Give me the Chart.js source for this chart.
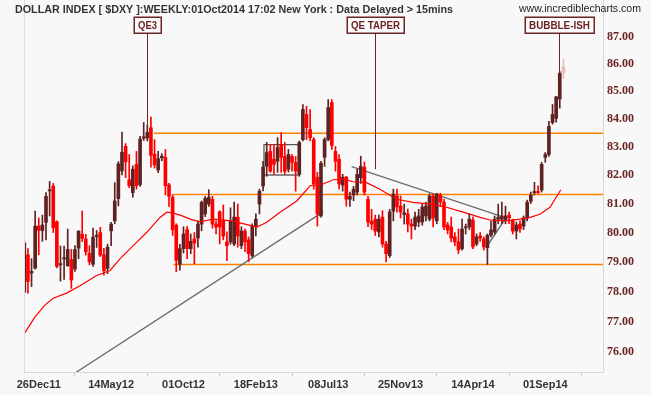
<!DOCTYPE html>
<html>
<head>
<meta charset="utf-8">
<script src="https://cdn.jsdelivr.net/npm/chart.js@4/dist/chart.umd.min.js"></script>
<style>
  html, body { margin: 0; padding: 0; background: #f8f8f8; }
  #grafica { display: block; }
</style>
</head>
<body>
<canvas id="grafica" width="651" height="395"></canvas>
<script>
// weekly bars, week 0 = 28Nov11
const tickWeeks = [4, 24, 44, 64, 84, 104, 124, 144];
const tickLabels = ['26Dec11', '14May12', '01Oct12', '18Feb13', '08Jul13', '25Nov13', '14Apr14', '01Sep14'];
const priceTicks = [76, 77, 78, 79, 80, 81, 82, 83, 84, 85, 86, 87];

const opens = [77.98,79.24,78.62,78.79,80.22,80.07,80.35,81.44,81.61,80.37, 78.90,79.10,78.87,79.08,78.76,79.47,79.94,79.78,79.29,78.92,
  79.86,80.00,79.24,78.78,80.06,80.40,81.17,82.14,83.01,81.83, 81.38,82.37,81.66,83.30,83.31,83.67,82.73,82.17,82.60,82.62,
  81.65,81.22,80.25,78.92,79.45,80.10,79.45,79.78,79.81,80.29, 80.64,80.98,81.15,80.29,80.71,80.40,79.68,79.68,79.61,80.53,
  79.55,80.05,79.75,79.21,80.22,80.98,81.61,82.30,82.83,82.55, 82.48,83.08,82.65,82.20,82.65,82.44,82.02,83.25,84.15,83.61,
  83.25,81.92,80.57,82.62,83.25,84.58,82.83,82.55,81.64,81.92, 81.15,81.30,81.40,81.90,82.27,81.15,80.39,80.46,80.02,80.53,
  79.61,79.21,80.74,81.26,80.91,80.62,80.64,80.29,80.22,80.36, 80.36,80.57,80.46,81.26,80.40,81.29,81.05,80.26,80.19,79.85,
  79.68,79.45,80.16,80.19,80.43,79.61,79.88,79.78,79.48,79.91, 80.02,80.46,80.46,80.43,80.60,80.43,80.05,80.29,80.22,80.50,
  81.08,81.38,81.42,81.47,82.62,82.72,83.86,84.01,84.71,85.66];
const highs = [79.73,79.45,79.11,80.74,80.50,80.60,81.38,81.77,81.70,80.40, 79.54,79.54,80.12,79.42,79.55,80.07,80.74,79.94,79.55,80.15,
  80.07,80.18,79.46,79.60,80.35,81.73,82.47,83.52,83.11,82.72, 82.32,82.83,83.37,83.86,83.78,84.06,83.25,82.83,82.75,82.90,
  81.70,81.30,80.30,79.60,80.20,80.20,79.95,80.00,80.40,81.09, 81.25,81.48,81.25,80.40,80.75,80.95,80.02,80.85,81.05,80.98,
  80.20,80.12,79.85,80.30,80.64,81.50,82.48,83.15,83.08,83.08, 83.32,83.50,83.15,82.90,82.72,82.65,83.20,84.51,84.45,84.33,
  83.32,82.09,82.48,83.32,84.69,84.69,83.00,82.72,82.02,81.95, 81.40,81.60,82.20,82.66,82.45,81.25,80.80,80.60,80.60,80.75,
  79.70,80.80,81.50,81.50,81.26,80.98,80.81,80.46,80.70,80.80, 81.00,81.05,81.33,81.33,81.36,81.36,81.15,80.35,80.53,80.00,
  80.12,80.46,80.29,80.64,80.53,79.95,80.00,79.85,79.95,80.39, 80.57,80.98,81.05,80.91,80.70,80.46,80.36,80.40,80.57,81.12,
  81.40,81.74,81.62,82.44,82.79,83.90,84.51,84.80,85.71,86.16];
const lows = [77.96,77.95,78.17,78.75,79.24,79.70,79.75,80.57,80.00,78.80, 78.35,78.41,78.85,78.11,78.68,79.11,79.69,79.23,78.90,78.85,
  79.49,79.18,78.55,78.60,79.55,80.30,80.92,82.00,81.90,81.55, 81.22,81.50,81.60,83.22,83.20,82.27,82.24,82.08,82.50,81.30,
  80.90,79.90,78.67,78.72,79.30,79.11,79.28,78.94,79.50,80.06, 80.55,80.90,80.15,79.95,79.61,79.75,79.04,79.60,79.55,79.50,
  79.45,79.35,79.01,79.15,79.88,80.64,81.44,81.95,82.09,82.02, 82.09,82.09,82.02,82.10,82.13,81.43,81.95,83.20,83.25,83.20,
  81.50,80.22,80.53,82.30,83.20,82.90,82.13,81.50,81.43,80.91, 80.90,81.10,81.30,81.70,81.30,80.20,80.10,79.90,79.85,79.50,
  79.00,79.15,80.40,80.70,80.50,80.29,80.02,79.78,80.10,80.20, 80.25,80.40,80.40,80.19,80.30,80.90,80.10,79.95,79.68,79.55,
  79.28,79.40,79.95,80.10,79.45,79.55,79.70,79.40,78.91,79.85, 79.95,80.30,80.30,80.30,80.30,79.95,79.78,80.00,80.10,80.40,
  81.00,81.30,81.35,81.40,82.44,82.65,83.80,83.87,84.38,85.47];
const closes = [79.64,78.34,78.68,80.22,80.07,80.26,81.25,81.48,80.17,78.85, 78.94,79.14,79.42,78.39,79.42,80.04,79.80,79.34,79.00,79.84,
  79.91,79.23,78.70,79.50,80.29,81.09,82.39,82.80,82.46,81.62, 82.20,81.62,83.27,83.35,83.51,82.69,82.35,82.57,82.66,81.62,
  81.25,80.10,79.05,79.45,79.95,79.45,79.70,79.64,80.29,81.04, 81.18,81.22,80.29,80.19,80.19,79.88,79.55,80.40,80.53,79.88,
  80.05,79.68,79.28,80.22,80.46,81.43,82.27,82.79,82.13,82.37, 82.97,82.62,82.13,82.72,82.44,82.13,83.15,84.33,83.68,83.32,
  81.68,80.64,82.41,83.25,84.40,83.04,82.48,81.68,81.92,81.15, 81.25,81.50,82.02,82.30,81.40,80.36,80.29,80.05,80.46,79.61,
  79.28,80.71,81.33,80.88,80.71,80.68,80.29,80.22,80.53,80.57, 80.88,80.91,81.26,80.50,81.33,81.05,80.19,80.09,79.81,79.68,
  79.41,80.12,80.19,80.46,79.51,79.85,79.81,79.51,79.91,80.09, 80.46,80.53,80.57,80.57,80.50,80.05,80.26,80.12,80.50,81.05,
  81.29,81.42,81.38,82.37,82.72,83.72,84.15,84.79,85.65,85.87];

// moving average
const maWeeks = [0.2, 2.9, 5.7, 8.0, 11.7, 15.4, 20.0, 23.7, 26.5, 30.1, 33.8, 37.5, 39.4, 41.2, 43.5, 45.8, 48.6, 52.2, 57.3, 61.0,
  64.3, 67.0, 70.7, 75.3, 79.0, 82.6, 85.4, 88.2, 90.9, 94.6, 98.3, 102.9, 107.5, 112.1, 116.7, 121.3, 126.0, 128.7, 133.3, 137.0,
  139.8, 142.5, 145.3, 148.3];
const maValues = [76.64, 77.15, 77.55, 77.78, 77.95, 78.20, 78.54, 78.71, 79.11, 79.55, 80.00, 80.52, 80.70, 80.67, 80.58, 80.46, 80.37, 80.46, 80.40, 80.29,
  80.19, 80.35, 80.70, 81.09, 81.62, 81.68, 81.83, 81.85, 81.76, 81.73, 81.50, 81.15, 81.04, 80.98, 80.87, 80.70, 80.52, 80.43, 80.40, 80.46,
  80.52, 80.63, 80.87, 81.48];

// horizontal levels
const levelValues = [83.48, 81.31, 78.91];
const levelStartWeeks = [35.8, 40.9, 41.2];

// trendlines [week, value] pairs
const trendWeeks = [[14.45, 82.6], [90.5, 131.5], [127.6, 133.1]];
const trendValues = [[75.36, 80.71], [82.29, 80.57], [79.48, 80.50]];

// consolidation box
const boxWeeks = [66.25, 76.2];
const boxValues = [83.07, 82.0];

// annotations
const noteLabels = ['QE3', 'QE TAPER', 'BUBBLE-ISH'];
const noteWeeks = [34, 96.85, 147.8];
const noteValues = [83.79, 82.20, 85.72];
const noteBoxWidths = [27, 57, 69];

const titleText = 'DOLLAR INDEX [ $DXY ]:WEEKLY:01Oct2014 17:02 New York : Data Delayed > 15mins';
const siteText = 'www.incrediblecharts.com';

const UP = '#5e2222', DOWN = '#ff0000', LIVE = '#f2b9b9', MAROON = '#6b2424';
const X_MIN = -0.083, X_MAX = 159.95;

function candleColor(i) {
  if (i === opens.length - 1) return LIVE;
  return closes[i] >= opens[i] ? UP : DOWN;
}

const wicks = {
  type: 'bar',
  data: opens.map((o, i) => ({ x: i, y: [lows[i], highs[i]] })),
  backgroundColor: ctx => candleColor(ctx.dataIndex),
  barThickness: 1,
  grouped: false,
  minBarLength: 1,
  order: 3
};
const bodies = {
  type: 'bar',
  data: opens.map((o, i) => ({ x: i, y: [o, closes[i]] })),
  backgroundColor: ctx => candleColor(ctx.dataIndex),
  barThickness: 3,
  grouped: false,
  minBarLength: 1,
  order: 2
};
const ma = {
  type: 'line',
  data: maWeeks.map((w, i) => ({ x: w, y: maValues[i] })),
  borderColor: '#ff0000',
  borderWidth: 1.2,
  pointRadius: 0,
  tension: 0,
  order: 1
};
const levels = levelValues.map((v, i) => ({
  type: 'line',
  data: [{ x: levelStartWeeks[i], y: v }, { x: X_MAX, y: v }],
  borderColor: '#ff8000',
  borderWidth: 1.5,
  pointRadius: 0,
  order: 6
}));
const trends = trendWeeks.map((w, i) => ({
  type: 'line',
  data: [{ x: w[0], y: trendValues[i][0] }, { x: w[1], y: trendValues[i][1] }],
  borderColor: '#6e6e6e',
  borderWidth: 1.4,
  pointRadius: 0,
  order: 5
}));
const box = {
  type: 'line',
  data: [
    { x: boxWeeks[0], y: boxValues[1] }, { x: boxWeeks[0], y: boxValues[0] },
    { x: boxWeeks[1], y: boxValues[0] }, { x: boxWeeks[1], y: boxValues[1] }
  ],
  borderColor: '#555555',
  borderWidth: 1.2,
  pointRadius: 0,
  order: 4
};
const boxBase = {
  type: 'line',
  data: [{ x: boxWeeks[0], y: boxValues[1] }, { x: boxWeeks[1], y: boxValues[1] }],
  borderColor: '#8a8a8a',
  borderWidth: 2,
  pointRadius: 0,
  order: 4
};

function fitText(ctx, text, x, y, width, font, color, align) {
  ctx.save();
  ctx.font = font;
  ctx.fillStyle = color;
  ctx.textBaseline = 'alphabetic';
  const w = ctx.measureText(text).width;
  const k = width / w;
  const left = align === 'right' ? x - width : (align === 'center' ? x - width / 2 : x);
  ctx.translate(left, y);
  ctx.scale(k, 1);
  ctx.textAlign = 'left';
  ctx.fillText(text, 0, 0);
  ctx.restore();
}

const decor = {
  id: 'decor',
  beforeDraw(chart) {
    const ctx = chart.ctx;
    ctx.save();
    ctx.fillStyle = '#f8f8f8';
    ctx.fillRect(0, 0, chart.width, chart.height);
    ctx.restore();
  },
  afterDraw(chart) {
    const { ctx, chartArea: a, scales: { x, y } } = chart;
    ctx.save();
    ctx.strokeStyle = '#dcdcdc';
    ctx.lineWidth = 1;
    ctx.beginPath();
    ctx.moveTo(a.left + 0.5, a.top);
    ctx.lineTo(a.left + 0.5, a.bottom);
    ctx.stroke();

    fitText(ctx, titleText, 15, 13, 438, 'bold 11px "Liberation Sans"', '#333333', 'left');
    fitText(ctx, siteText, 641, 12, 122, '11px "Liberation Sans"', '#222222', 'right');

    noteLabels.forEach((label, i) => {
      const px = Math.round(x.getPixelForValue(noteWeeks[i])) + 0.5;
      const py = y.getPixelForValue(noteValues[i]);
      const bw = noteBoxWidths[i];
      const top = 17, bh = 16;
      ctx.strokeStyle = MAROON;
      ctx.lineWidth = 1;
      ctx.beginPath();
      ctx.moveTo(px, top + bh);
      ctx.lineTo(px, py);
      ctx.stroke();
      ctx.fillStyle = '#fbfbfb';
      ctx.fillRect(Math.round(px - bw / 2), top, bw, bh);
      ctx.lineWidth = 1.5;
      ctx.strokeRect(Math.round(px - bw / 2) + 0.25, top + 0.25, bw, bh);
      fitText(ctx, label, px, top + 12, bw - 8, 'bold 11px "Liberation Sans"', MAROON, 'center');
    });
    ctx.restore();
  }
};

const graph = document.querySelector('#grafica');

new Chart(graph, {
  type: 'bar',
  data: { datasets: [wicks, bodies, ma, ...levels, ...trends, box, boxBase] },
  options: {
    responsive: false,
    animation: false,
    events: [],
    devicePixelRatio: 1,
    layout: { padding: { left: 24, top: 0, right: 0, bottom: 0 } },
    plugins: { legend: { display: false }, tooltip: { enabled: false } },
    scales: {
      x: {
        type: 'linear',
        min: X_MIN,
        max: X_MAX,
        offset: false,
        afterFit: s => { s.height = 23; s.paddingLeft = 0; s.paddingRight = 0; },
        afterBuildTicks: s => { s.ticks = tickWeeks.map(v => ({ value: v })); },
        grid: { drawOnChartArea: false, drawTicks: true, tickLength: 4, color: '#cccccc' },
        border: { display: true, color: '#d8d8d8' },
        ticks: {
          autoSkip: false,
          maxRotation: 0,
          padding: 2,
          color: '#333333',
          font: { family: '"Liberation Sans"', size: 11, weight: 'bold' },
          callback: v => { const i = tickWeeks.indexOf(v); return i < 0 ? '' : tickLabels[i]; }
        }
      },
      y: {
        type: 'logarithmic',
        position: 'right',
        min: 75.36,
        max: 88.38,
        afterFit: s => { s.width = 48; s.paddingTop = 0; s.paddingBottom = 0; },
        afterBuildTicks: s => { s.ticks = priceTicks.map(v => ({ value: v })); },
        grid: { drawOnChartArea: false, drawTicks: false },
        border: { display: true, color: '#d8d8d8' },
        ticks: {
          padding: 4,
          color: MAROON,
          font: { family: '"Liberation Serif"', size: 12, weight: 'bold' },
          callback: v => Number(v).toFixed(2)
        }
      }
    }
  },
  plugins: [decor]
});
</script>
</body>
</html>
